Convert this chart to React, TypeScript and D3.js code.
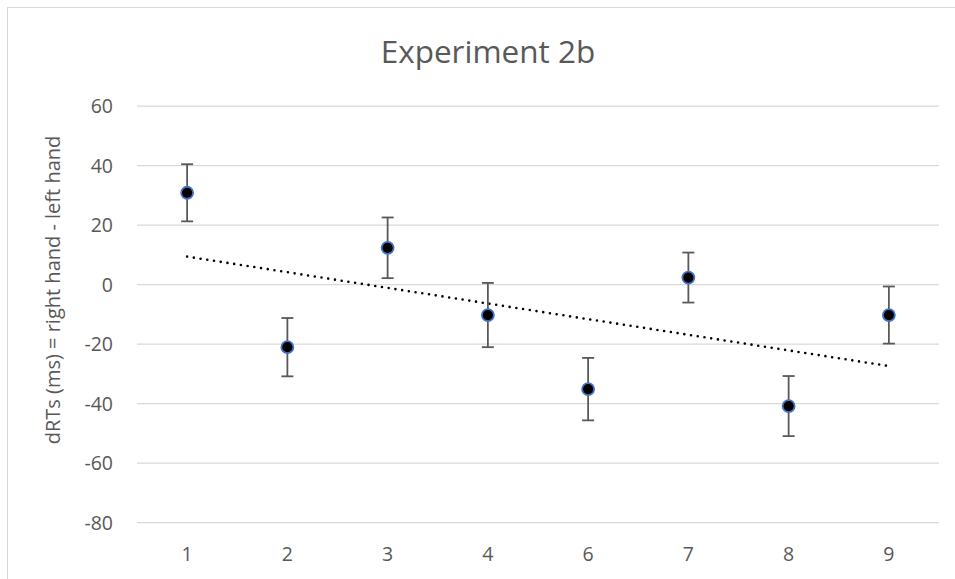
import React from "react";
import * as d3 from "d3";

const categories = ["1", "2", "3", "4", "6", "7", "8", "9"];
const values = [30.9, -21.0, 12.4, -10.2, -35.1, 2.4, -40.8, -10.2];
const errors = [9.6, 9.8, 10.2, 10.8, 10.5, 8.4, 10.1, 9.6];
const yTicks = [-80, -60, -40, -20, 0, 20, 40, 60];
const title = "Experiment 2b";
const yTitle = "dRTs (ms) = right hand - left hand";

const W = 955;
const H = 579;
const plot = { left: 137, right: 939, top: 106.2, bottom: 522.7 };
const font = "'Open Sans', sans-serif";
const textColor = "#595959";

export default function App() {
  const x = d3.scaleBand<string>().domain(categories).range([plot.left, plot.right]);
  const y = d3.scaleLinear().domain([-80, 60]).range([plot.bottom, plot.top]);
  const cx = (c: string) => (x(c) as number) + x.bandwidth() / 2;

  // linear trendline (least squares over category index)
  const idx = values.map((_, i) => i + 1);
  const mx = d3.mean(idx) as number;
  const my = d3.mean(values) as number;
  const sxy = d3.sum(idx.map((xi, i) => (xi - mx) * (values[i] - my)));
  const sxx = d3.sum(idx.map((xi) => (xi - mx) ** 2));
  const slope = sxy / sxx;
  const intercept = my - slope * mx;
  const trend = d3
    .line<number>()
    .x((i) => cx(categories[i - 1]))
    .y((i) => y(intercept + slope * i))([1, categories.length]);

  const cap = 6;
  return (
    <svg
      width={W}
      height={H}
      style={{ position: "absolute", left: 0, top: 0, background: "#fff" }}
      fontFamily={font}
    >
      <rect x={7.5} y={7.5} width={W + 20} height={H + 20} fill="#fff" stroke="#d9d9d9" />
      <text x={488} y={63} textAnchor="middle" fontSize={31.5} fill={textColor}>
        {title}
      </text>
      {yTicks.map((t) => (
        <g key={t}>
          <line x1={plot.left} x2={plot.right} y1={y(t)} y2={y(t)} stroke="#d9d9d9" strokeWidth={1.2} />
          <text x={113} y={y(t)} dy="0.35em" textAnchor="end" fontSize={19.5} fill={textColor}>
            {t}
          </text>
        </g>
      ))}
      {categories.map((c) => (
        <text key={c} x={cx(c)} y={561} textAnchor="middle" fontSize={19.5} fill={textColor}>
          {c}
        </text>
      ))}
      <text
        transform={`translate(60, 290) rotate(-90)`}
        textAnchor="middle"
        fontSize={20}
        fill={textColor}
      >
        {yTitle}
      </text>
      <path
        d={trend || ""}
        fill="none"
        stroke="#000"
        strokeWidth={2.6}
        strokeLinecap="round"
        strokeDasharray="0 6.8"
      />
      {categories.map((c, i) => {
        const px = cx(c);
        const top = y(values[i] + errors[i]);
        const bot = y(values[i] - errors[i]);
        return (
          <g key={c} stroke="#595959" strokeWidth={1.8}>
            <line x1={px} x2={px} y1={top} y2={bot} />
            <line x1={px - cap} x2={px + cap} y1={top} y2={top} />
            <line x1={px - cap} x2={px + cap} y1={bot} y2={bot} />
          </g>
        );
      })}
      {categories.map((c, i) => (
        <circle key={c} cx={cx(c)} cy={y(values[i])} r={6} fill="#000" stroke="#4472C4" strokeWidth={1.8} />
      ))}
    </svg>
  );
}
